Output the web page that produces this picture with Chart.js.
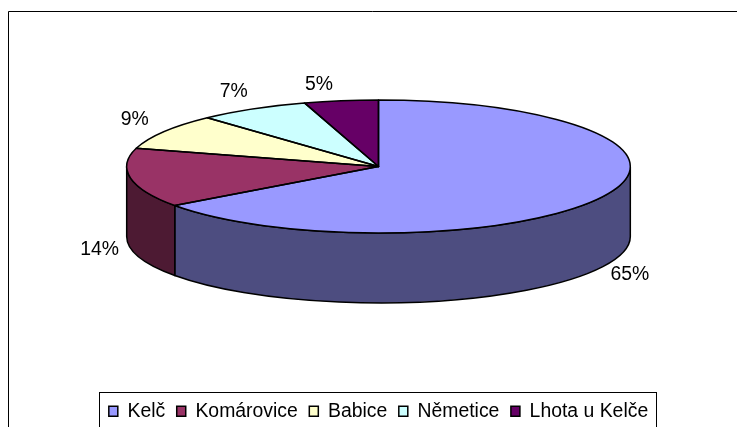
<!DOCTYPE html>
<html>
<head>
<meta charset="utf-8">
<script src="https://cdn.jsdelivr.net/npm/chart.js@4"></script>
<style>
    html, body { margin: 0; padding: 0; background: #fff; }
    canvas { display: block; }
</style>
</head>
<body>
<canvas id="chart" width="737" height="427"></canvas>
<script>
const categories = ['Kelč', 'Komárovice', 'Babice', 'Němetice', 'Lhota u Kelče'];
// the printed labels are these rounded
const shares = [65, 14.4, 8.7, 7.15, 4.75];
const topColors = ['#9999ff', '#993366', '#ffffcc', '#ccffff', '#660066'];
const wallColors = ['#4d4d80', '#4d1a33', '#80801a', '#668080', '#330033'];
// Label nudge from the rim point of each slice, they don't sit on one clean radius
const labelNudges = [[27, 8], [-31, 2], [-29, -12], [-19, -17], [-22, -16]];

const FONT = '"Liberation Sans", Arial, sans-serif';
const FONT_SIZE = 19.4;
const STRETCH = 252 / 66.5; // chart gives a circle, this makes it the tilted ellipse
const DEPTH = 70;

function ellipsePath(ctx, el, dy, a, b, ccw) {
    ctx.ellipse(el.x, el.y + dy, el.outerRadius * STRETCH, el.outerRadius, 0, a, b, ccw);
}

const pie3d = {
    id: 'pie3d',
    beforeDraw: function (chart) {
        // outer chart frame, only left and top edge are in the picture
        const ctx = chart.ctx;
        ctx.save();
        ctx.strokeStyle = '#000';
        ctx.lineWidth = 1;
        ctx.beginPath();
        ctx.moveTo(8.5, chart.height);
        ctx.lineTo(8.5, 11.5);
        ctx.lineTo(chart.width, 11.5);
        ctx.stroke();
        ctx.restore();
    },
    beforeDatasetsDraw: function (chart) {
        const ctx = chart.ctx;
        const arcs = chart.getDatasetMeta(0).data;

        // side wall, only the front half of the rim shows
        ctx.save();
        ctx.strokeStyle = '#000';
        ctx.lineWidth = 1.5;
        arcs.forEach(function (el, i) {
            const a = Math.max(el.startAngle, 0);
            const b = Math.min(el.endAngle, Math.PI);
            if (b <= a) return;
            ctx.beginPath();
            ellipsePath(ctx, el, 0, a, b, false);
            ellipsePath(ctx, el, DEPTH, b, a, true);
            ctx.closePath();
            ctx.fillStyle = wallColors[i];
            ctx.fill();
            ctx.stroke();
        });
        ctx.restore();

        // squash the library's own arcs
        const first = arcs[0];
        ctx.save();
        ctx.translate(first.x, first.y);
        ctx.scale(STRETCH, 1);
        ctx.translate(-first.x, -first.y);
    },
    afterDatasetsDraw: function (chart) {
        const ctx = chart.ctx;
        ctx.restore();

        const arcs = chart.getDatasetMeta(0).data;
        ctx.save();
        ctx.strokeStyle = '#000';
        ctx.lineWidth = 1.5;
        ctx.lineJoin = 'round';
        arcs.forEach(function (el) {
            ctx.beginPath();
            ctx.moveTo(el.x, el.y);
            ellipsePath(ctx, el, 0, el.startAngle, el.endAngle, false);
            ctx.closePath();
            ctx.stroke();
        });

        // percent labels
        ctx.fillStyle = '#000';
        ctx.font = FONT_SIZE + 'px ' + FONT;
        ctx.textAlign = 'center';
        ctx.textBaseline = 'middle';
        arcs.forEach(function (el, i) {
            const mid = (el.startAngle + el.endAngle) / 2;
            const front = Math.sin(mid) > 0 ? DEPTH : 0;
            const x = el.x + el.outerRadius * STRETCH * Math.cos(mid);
            const y = el.y + el.outerRadius * Math.sin(mid) + front;
            ctx.fillText(Math.round(shares[i]) + '%', x + labelNudges[i][0], y + labelNudges[i][1]);
        });
        ctx.restore();
    },
    afterDraw: function (chart) {
        // legend frame, bottom edge falls outside the canvas
        const legend = chart.legend;
        const boxes = legend.legendHitBoxes;
        const last = boxes[boxes.length - 1];
        const left = Math.round(boxes[0].left) - 9.5;
        const right = Math.round(last.left + last.width) + 8.5;
        const ctx = chart.ctx;
        ctx.save();
        ctx.strokeStyle = '#000';
        ctx.lineWidth = 1;
        ctx.strokeRect(left, Math.round(legend.top) + 2.5, right - left, 60);
        ctx.restore();
    }
};

new Chart(document.getElementById('chart'), {
    type: 'pie',
    data: {
        labels: categories,
        datasets: [{
            data: shares,
            backgroundColor: topColors,
            borderWidth: 0,
            clip: false
        }]
    },
    options: {
        responsive: false,
        animation: false,
        layout: { padding: { left: 20, top: 100, bottom: -4 } },
        plugins: {
            tooltip: { enabled: false },
            // empty title is only a spacer so the pie ends where the tilted top ends
            title: {
                display: true,
                text: '',
                position: 'bottom',
                weight: 500,
                font: { size: 1 },
                padding: { top: 156, bottom: 0 }
            },
            legend: {
                position: 'bottom',
                labels: {
                    font: { family: FONT, size: FONT_SIZE },
                    color: '#000',
                    boxWidth: 9,
                    boxHeight: 10,
                    padding: 11.5,
                    generateLabels: function (chart) {
                        return categories.map(function (name, i) {
                            return { text: name, fillStyle: topColors[i], strokeStyle: '#000', lineWidth: 1.5, index: i, hidden: false };
                        });
                    }
                }
            }
        }
    },
    plugins: [pie3d]
});
</script>
</body>
</html>
